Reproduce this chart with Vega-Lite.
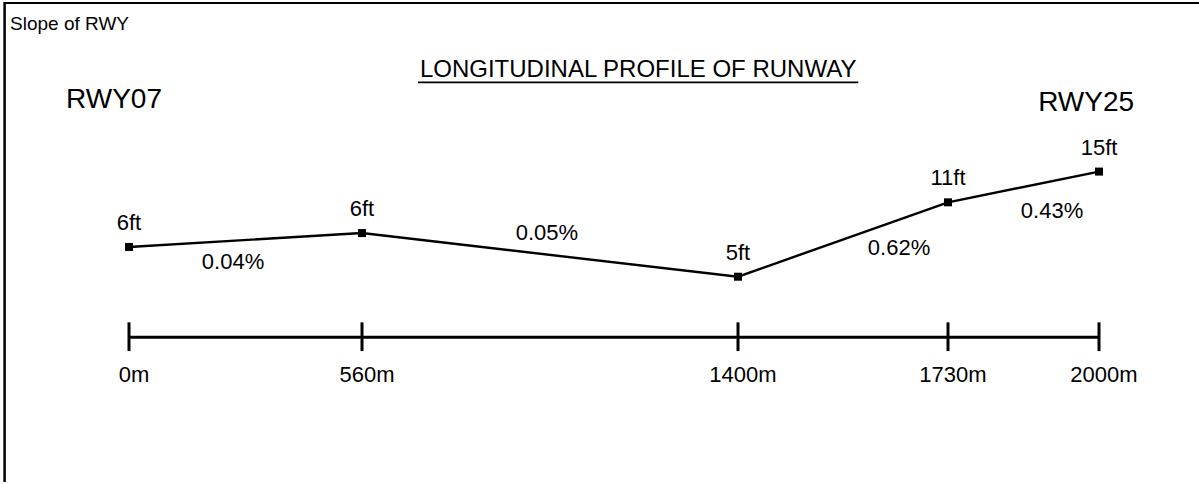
{
  "$schema": "https://vega.github.io/schema/vega-lite/v6.json",
  "width": 1199,
  "height": 484,
  "padding": 0,
  "autosize": {"type": "fit", "contains": "padding"},
  "background": "white",
  "config": {"view": {"stroke": null}, "text": {"font": "Liberation Sans", "color": "black"}},
  "datasets": {
    "profile": [
      {"dist": 0, "dist_label": "0m", "elev_ft": 6, "elev_label": "6ft", "level": 5.3},
      {"dist": 560, "dist_label": "560m", "elev_ft": 6, "elev_label": "6ft", "level": 6.7},
      {"dist": 1400, "dist_label": "1400m", "elev_ft": 5, "elev_label": "5ft", "level": 2.3},
      {"dist": 1730, "dist_label": "1730m", "elev_ft": 11, "elev_label": "11ft", "level": 9.8},
      {"dist": 2000, "dist_label": "2000m", "elev_ft": 15, "elev_label": "15ft", "level": 12.9}
    ],
    "slopes": [
      {"from": 0, "to": 560, "slope": "0.04%", "dist": 250, "level": 3.8},
      {"from": 560, "to": 1400, "slope": "0.05%", "dist": 973, "level": 6.7},
      {"from": 1400, "to": 1730, "slope": "0.62%", "dist": 1653, "level": 5.2},
      {"from": 1730, "to": 2000, "slope": "0.43%", "dist": 1916, "level": 8.9}
    ],
    "one": [{}]
  },
  "layer": [
    {
      "data": {"name": "profile"},
      "mark": {"type": "line", "color": "black", "strokeWidth": 2.4},
      "encoding": {
        "x": {"field": "dist", "type": "quantitative", "axis": null,
              "scale": {"domain": [0, 560, 1400, 1730, 2000], "range": [129, 362, 738, 948, 1099], "nice": false, "zero": false}},
        "y": {"field": "level", "type": "quantitative", "axis": null,
              "scale": {"domain": [-18.4, 30], "nice": false, "zero": false}}
      }
    },
    {
      "data": {"name": "one"},
      "mark": {"type": "rule", "color": "black", "strokeWidth": 2.5},
      "encoding": {"x": {"datum": -299}, "y": {"datum": 30}, "y2": {"datum": -18.4}}
    },
    {
      "data": {"name": "one"},
      "mark": {"type": "rule", "color": "black", "strokeWidth": 2},
      "encoding": {"x": {"datum": -300}, "x2": {"datum": 2200}, "y": {"datum": 29.9}}
    },
    {
      "data": {"name": "one"},
      "mark": {"type": "rule", "color": "black", "strokeWidth": 1.6},
      "encoding": {"x": {"datum": 685}, "x2": {"datum": 1589}, "y": {"datum": 21.9}}
    },
    {
      "data": {"name": "one"},
      "mark": {"type": "rule", "color": "black", "strokeWidth": 3},
      "encoding": {"x": {"datum": 0}, "x2": {"datum": 2000}, "y": {"datum": -3.8}}
    },
    {
      "data": {"name": "profile"},
      "mark": {"type": "rule", "color": "black", "strokeWidth": 3},
      "encoding": {"x": {"field": "dist", "type": "quantitative"}, "y": {"datum": -2.3}, "y2": {"datum": -5.2}}
    },
    {
      "data": {"name": "profile"},
      "mark": {"type": "point", "shape": "square", "filled": true, "color": "black", "size": 64, "opacity": 1},
      "encoding": {"x": {"field": "dist", "type": "quantitative"}, "y": {"field": "level", "type": "quantitative"}}
    },
    {
      "data": {"name": "profile"},
      "mark": {"type": "text", "fontSize": 22, "baseline": "middle", "align": "center", "dy": -24},
      "encoding": {"x": {"field": "dist", "type": "quantitative"}, "y": {"field": "level", "type": "quantitative"}, "text": {"field": "elev_label"}}
    },
    {
      "data": {"name": "profile"},
      "mark": {"type": "text", "fontSize": 22, "baseline": "middle", "align": "center", "dx": 5},
      "encoding": {"x": {"field": "dist", "type": "quantitative"}, "y": {"datum": -7.6}, "text": {"field": "dist_label"}}
    },
    {
      "data": {"name": "slopes"},
      "mark": {"type": "text", "fontSize": 22, "baseline": "middle", "align": "center"},
      "encoding": {"x": {"field": "dist", "type": "quantitative"}, "y": {"field": "level", "type": "quantitative"}, "text": {"field": "slope"}}
    },
    {
      "data": {"name": "one"},
      "mark": {"type": "text", "fontSize": 19, "baseline": "middle", "align": "left", "text": "Slope of RWY"},
      "encoding": {"x": {"datum": -286}, "y": {"datum": 27.8}}
    },
    {
      "data": {"name": "one"},
      "mark": {"type": "text", "fontSize": 24, "baseline": "middle", "align": "center", "text": "LONGITUDINAL PROFILE OF RUNWAY"},
      "encoding": {"x": {"datum": 1177}, "y": {"datum": 23.1}}
    },
    {
      "data": {"name": "one"},
      "mark": {"type": "text", "fontSize": 28, "baseline": "middle", "align": "center", "text": "RWY07"},
      "encoding": {"x": {"datum": -36}, "y": {"datum": 20.1}}
    },
    {
      "data": {"name": "one"},
      "mark": {"type": "text", "fontSize": 28, "baseline": "middle", "align": "center", "text": "RWY25"},
      "encoding": {"x": {"datum": 1977}, "y": {"datum": 19.8}}
    }
  ]
}
